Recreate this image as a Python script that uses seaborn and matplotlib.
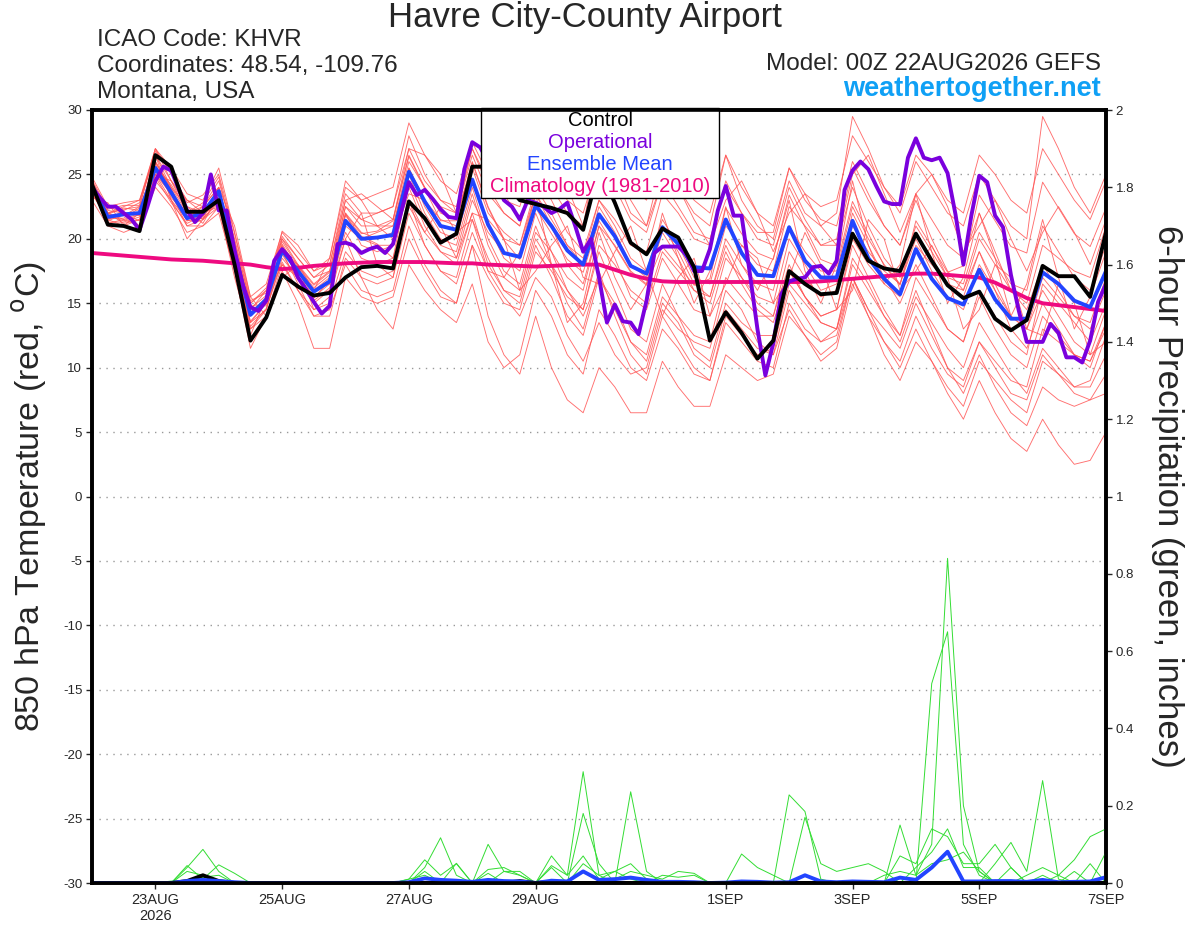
import numpy as np
import pandas as pd
import matplotlib
matplotlib.use("Agg")
import matplotlib.pyplot as plt
import seaborn as sns
from matplotlib.patches import Rectangle

# ---------------- data ----------------
hours6 = list(range(0, 385, 6))      # 65 six-hourly steps from 00Z 22AUG
hours3 = list(range(0, 385, 3))      # 129 three-hourly steps (operational)

control_t = [24.2,21.1,21.0,20.6,26.5,25.6,22.1,22.1,23.0,18.0,12.1,13.9,17.2,16.3,15.6,15.8,17.0,
             17.8,17.9,17.7,22.9,21.6,19.7,20.4,25.6,25.6,24.5,23.0,22.7,22.4,22.0,20.7,25.5,22.8,19.7,
             18.8,20.8,20.1,17.8,12.1,14.3,12.7,10.7,12.1,
             17.5,16.5,15.7,15.8,20.4,18.3,17.7,17.5,20.4,18.3,16.4,15.4,15.9,13.8,12.9,13.7,17.9,17.1,
             17.1,15.5,20.5]
mean_t = [24.1,21.7,21.9,22.0,25.5,23.6,21.6,22.0,23.7,18.9,14.1,15.3,19.1,17.5,15.9,16.7,21.4,
          20.0,20.1,20.3,25.2,22.9,21.0,20.7,24.6,21.1,18.9,18.6,22.6,21.0,19.1,18.0,21.9,20.2,17.9,
          17.3,20.9,19.6,17.8,17.7,21.5,18.9,17.2,17.1,20.9,
          18.3,17.0,17.0,21.4,18.5,16.9,15.7,19.2,16.9,15.4,14.9,17.6,15.3,13.8,13.8,17.4,16.5,15.2,
          14.7,17.5]
oper_t = [24.0,23.2,22.5,22.5,22.0,21.5,20.7,22.5,24.5,25.6,
          25.3,23.8,22.2,21.3,22.0,25.0,22.2,22.2,19.1,16.5,
          14.7,14.4,15.2,18.3,19.2,18.5,17.0,16.1,15.1,14.2,
          14.8,19.6,19.7,19.5,18.9,19.2,19.4,18.9,19.6,22.0,
          24.4,23.4,23.8,23.1,22.3,21.7,21.6,25.4,27.5,27.1,
          26.0,24.5,23.0,22.5,21.5,23.0,22.8,22.5,22.0,22.3,
          22.8,21.0,19.0,20.0,17.0,13.5,14.9,13.6,13.5,12.6,
          15.2,18.9,19.4,19.4,19.4,18.8,17.5,17.5,19.2,22.2,
          24.1,21.8,21.8,17.5,13.0,9.4,11.9,15.7,16.7,16.9,
          17.0,17.8,17.9,17.3,18.3,23.8,25.3,26.0,25.4,24.1,
          22.9,22.7,22.7,26.3,27.8,26.3,26.1,26.3,25.1,21.9,
          18.0,21.8,24.9,24.4,21.8,20.9,17.2,14.4,12.0,12.0,
          12.0,13.4,12.7,10.8,10.8,10.4,12.1,15.1,16.5]
clim_t = [18.9,18.8,18.7,18.6,18.5,18.4,18.35,18.3,18.2,18.1,18.0,17.8,17.65,17.75,17.9,18.0,18.1,
          18.15,18.2,18.2,18.2,18.2,18.15,18.1,18.1,18.0,17.95,17.9,17.85,17.9,17.95,18.0,18.0,
          17.6,17.2,16.9,16.7,16.65,16.65,16.65,16.65,16.65,16.65,16.65,16.65,16.65,16.7,16.8,16.9,
          17.0,17.1,17.2,17.3,17.3,17.2,17.1,17.0,16.6,16.0,15.4,15.0,14.85,14.7,14.55,14.4]

m01 = [24.5,22.0,22.3,22.5,27.0,24.5,22.0,22.5,24.5,20.0,15.0,16.0,20.0,
       18.5,17.0,18.0,23.5,22.0,22.0,22.5,28.0,25.0,23.0,22.0,27.0,24.0,
       22.0,21.0,26.0,24.0,22.0,21.0,27.5,25.0,22.0,21.0,26.0,24.0,22.0,
       21.0,26.5,23.0,21.0,20.0,24.5,22.0,21.0,22.0,29.5,27.0,24.0,22.0,
       26.0,24.0,22.0,21.0,25.0,23.0,21.0,20.0,29.5,27.0,24.0,22.0,25.0]
m02 = [23.5,21.5,21.0,21.5,24.5,23.0,21.0,21.5,22.5,18.0,13.0,14.0,18.0,
       16.0,14.5,15.0,19.0,17.5,17.0,17.5,22.5,20.5,19.0,18.0,22.0,18.0,
       16.0,15.0,19.5,17.0,14.0,12.5,17.0,15.0,12.0,10.5,15.0,13.5,11.0,
       10.0,14.5,13.0,11.5,11.0,16.0,14.0,12.0,12.5,17.0,14.5,12.0,10.0,
       13.0,10.5,8.0,6.0,9.0,6.5,4.5,3.5,6.0,4.0,2.5,2.8,5.0]
m03 = [24.0,22.5,22.0,22.0,26.0,24.0,22.5,22.0,23.0,19.5,14.5,15.0,19.5,
       17.0,15.5,16.5,22.0,19.5,19.0,19.5,25.0,22.0,20.0,19.5,24.0,20.0,
       17.5,16.5,21.0,18.0,15.0,13.0,17.5,14.0,11.0,9.5,14.0,12.0,10.0,
       9.0,13.5,12.0,10.5,10.0,15.0,13.0,12.0,13.0,18.0,16.0,14.0,12.5,
       17.0,15.0,13.0,12.0,16.0,14.0,12.0,11.0,16.5,15.0,13.5,12.0,15.0]
m04 = [23.0,21.0,20.5,21.0,25.0,23.5,22.0,22.0,23.5,18.5,13.0,14.5,19.0,
       16.5,14.0,14.5,18.0,16.0,15.5,16.0,21.0,18.0,16.0,15.0,19.5,14.0,
       11.0,9.5,14.0,10.0,7.5,6.5,10.0,8.5,6.5,6.5,10.5,8.5,7.0,
       7.0,11.0,10.0,9.0,9.5,14.0,12.5,11.0,12.0,17.0,14.5,13.0,11.5,
       15.0,12.5,10.0,9.0,12.0,10.0,8.0,7.5,11.0,9.5,8.0,7.5,9.5]
m05 = [24.5,22.0,22.5,23.0,27.0,25.5,23.5,23.0,25.5,20.5,15.5,16.5,20.5,
       19.0,17.5,18.5,24.0,23.0,23.5,24.0,29.0,26.5,24.5,23.5,27.5,25.0,
       24.0,23.0,27.0,26.0,24.5,23.5,28.0,26.5,24.0,23.0,27.0,25.5,23.0,
       22.0,26.5,24.0,22.0,21.0,25.5,23.0,21.5,21.0,26.0,23.5,21.0,19.5,
       23.0,20.0,17.5,16.0,19.0,16.0,13.0,11.5,15.0,13.0,11.0,10.0,13.5]
m06 = [23.8,21.2,21.5,22.0,25.0,23.0,21.5,22.5,24.0,19.0,14.0,15.5,19.0,
       17.5,16.0,17.0,22.5,21.0,21.0,21.5,26.5,24.0,22.0,21.5,26.0,22.5,
       20.0,19.5,24.0,22.0,19.5,18.0,22.5,20.5,18.0,17.0,21.0,19.0,16.5,
       15.5,19.5,17.0,15.0,14.0,18.0,15.5,13.5,13.0,17.0,14.0,12.0,10.5,
       14.0,11.5,9.5,8.5,12.0,10.5,9.0,8.5,13.0,12.0,11.0,10.5,13.5]
m07 = [24.2,22.0,21.5,21.0,24.0,22.5,20.5,21.0,22.0,17.5,11.5,14.0,17.5,
       15.0,11.5,11.5,17.0,15.5,15.0,15.5,20.0,17.5,15.5,15.0,19.5,17.0,
       15.0,14.5,19.0,17.5,15.5,14.5,19.5,18.0,16.0,15.0,19.0,17.5,16.0,
       15.5,20.0,18.0,16.5,16.0,21.0,19.0,17.5,17.5,22.5,20.0,18.0,16.5,
       20.0,17.5,15.5,14.5,18.0,16.0,14.0,13.0,17.0,15.5,14.0,13.0,16.0]
m08 = [24.0,22.2,22.0,21.8,26.5,24.5,22.5,21.5,23.0,18.5,13.5,14.5,18.5,
       17.0,15.5,16.0,21.0,20.0,20.5,21.0,26.0,24.0,22.5,22.0,26.5,23.5,
       22.0,21.0,25.0,23.0,20.5,19.0,23.0,21.0,18.5,17.5,21.5,19.5,17.0,
       16.5,21.0,19.5,18.0,17.5,22.5,21.0,19.5,20.0,25.5,23.0,21.0,19.5,
       23.5,21.5,19.5,18.5,22.0,19.0,16.0,14.5,18.0,16.0,14.0,13.5,17.0]
m09 = [23.5,21.8,21.8,22.5,25.5,23.5,21.0,21.0,22.5,18.0,13.5,15.0,19.0,
       18.0,16.5,17.5,23.0,21.5,21.0,21.0,25.5,22.5,20.5,20.0,24.5,21.0,
       18.5,17.5,22.0,19.0,16.0,14.5,19.0,16.0,13.0,12.0,16.5,14.0,11.5,
       10.5,15.0,13.5,12.5,12.5,17.5,15.5,14.0,14.5,19.5,17.0,14.5,12.5,
       16.0,13.0,10.0,8.0,11.0,8.5,6.5,5.5,8.5,7.5,7.0,7.5,8.0]
m10 = [24.3,21.5,22.2,22.8,27.0,25.0,23.0,22.5,24.0,19.0,14.5,16.0,20.0,
       18.0,16.0,16.5,21.5,20.0,19.5,19.5,24.0,21.0,19.0,18.5,23.0,20.5,
       19.0,18.5,23.5,21.5,19.5,18.5,23.0,21.5,19.5,19.0,23.5,22.0,20.0,
       19.5,24.5,22.0,20.0,19.5,24.0,21.5,19.5,19.5,24.0,21.0,18.5,17.0,
       21.0,19.0,17.0,16.5,20.5,18.5,16.5,16.0,21.0,19.0,17.0,16.0,19.5]
m11 = [23.7,22.0,21.2,21.5,25.8,23.2,21.8,22.2,23.2,18.8,14.2,15.2,19.2,
       17.2,15.2,16.2,20.5,18.5,18.0,18.5,24.5,21.5,19.5,19.0,23.5,19.5,
       17.0,16.0,20.5,19.0,17.0,16.0,21.0,19.5,17.5,16.5,20.5,18.5,16.0,
       15.0,19.0,16.5,14.5,13.5,17.5,15.5,14.0,14.5,20.0,18.0,16.5,15.5,
       19.5,18.0,16.5,16.0,20.0,18.0,16.0,15.0,19.5,18.5,17.5,17.0,21.0]
m12 = [24.8,22.5,22.8,23.0,26.5,24.0,22.0,22.8,24.8,19.8,15.0,16.2,20.2,
       18.5,17.0,17.5,22.5,21.5,22.0,22.5,27.0,24.5,23.0,22.5,27.0,24.5,
       23.0,22.5,26.5,25.0,23.0,22.0,26.0,24.0,21.5,20.5,24.5,22.5,20.5,
       20.0,24.0,22.0,20.5,20.5,25.5,23.5,22.5,23.0,28.0,26.0,24.0,22.5,
       26.5,25.0,23.0,22.0,26.5,25.0,23.0,22.0,27.0,25.0,23.0,21.5,24.5]
m13 = [23.9,21.3,21.3,21.7,24.8,22.8,21.2,21.8,23.0,18.2,13.2,14.6,18.2,
       16.0,14.0,14.0,18.5,17.0,16.5,17.0,22.0,19.5,17.5,17.0,21.5,18.5,
       16.0,15.5,20.0,18.0,16.0,14.0,17.0,14.5,12.0,11.0,15.5,14.0,12.5,
       12.0,17.0,15.5,14.0,14.0,19.0,17.0,15.5,16.0,21.0,19.0,17.5,16.5,
       20.5,18.5,16.5,15.5,19.0,16.5,14.0,13.0,16.0,14.0,12.0,11.0,14.5]
m14 = [24.1,21.9,22.4,22.2,26.0,23.8,21.7,21.8,23.6,19.2,14.3,15.4,19.4,
       17.8,16.2,17.2,22.0,20.5,20.0,20.5,25.5,23.0,21.5,21.0,25.5,22.0,
       20.5,19.5,23.5,21.0,18.0,16.5,21.0,18.5,15.5,14.5,18.5,16.5,14.5,
       14.0,18.5,17.0,15.5,15.0,20.0,18.0,16.0,16.5,22.0,19.5,17.0,15.0,
       18.0,15.5,13.0,12.0,15.5,13.0,11.0,10.0,14.0,12.5,11.0,10.5,13.0]
m15 = [24.0,21.5,22.0,21.0,25.0,24.5,23.0,22.0,22.5,17.0,12.5,15.5,18.0,
       17.0,16.0,18.5,24.5,23.0,21.0,20.0,23.5,23.0,21.0,18.5,22.0,21.5,
       20.0,16.0,17.5,19.5,21.0,17.0,16.5,19.0,21.0,17.5,14.0,17.0,18.5,
       14.0,16.5,19.5,18.5,15.0,17.0,20.5,18.0,14.5,16.0,21.5,20.0,16.0,
       17.5,19.5,17.0,13.0,14.5,18.0,17.0,13.0,12.5,16.5,15.0,11.0,12.0]
m16 = [23.2,22.8,21.0,22.0,26.5,23.0,20.0,21.5,24.0,21.0,15.5,14.0,17.0,
       18.0,14.5,15.5,20.0,22.0,18.0,17.0,23.0,20.5,22.5,20.5,21.5,17.5,
       17.0,19.0,23.5,18.0,13.5,15.0,20.5,17.0,14.5,16.5,22.0,18.5,15.0,
       17.5,22.5,18.0,16.0,18.5,23.0,17.5,15.0,18.0,24.5,19.5,16.5,18.0,
       23.5,19.0,15.0,17.0,22.0,18.5,14.0,16.5,21.5,17.0,13.0,15.5,19.0]
m17 = [24.4,21.6,21.6,22.4,25.2,23.4,21.4,21.6,22.8,19.4,14.8,14.8,18.8,
       16.8,15.0,16.0,20.0,17.0,14.5,13.0,18.0,16.0,14.5,13.5,16.5,12.0,
       10.0,11.0,16.0,14.0,11.0,9.5,14.5,12.5,10.0,9.0,13.0,11.5,9.5,
       9.0,14.0,12.5,11.0,11.5,16.5,15.0,13.5,13.0,18.5,16.5,14.0,12.0,
       15.5,13.5,11.5,10.0,13.5,11.5,9.5,8.0,11.5,10.0,8.5,8.5,11.0]
m18 = [24.6,22.3,22.6,22.6,26.8,25.2,22.8,23.4,25.0,20.4,15.2,15.8,20.6,
       19.5,17.5,18.0,23.0,23.5,22.5,21.5,27.0,26.5,25.0,22.0,25.5,25.5,
       23.5,21.5,24.5,26.5,24.0,21.0,25.0,25.5,23.0,21.0,24.5,24.0,21.5,
       19.5,23.0,24.5,22.0,19.0,22.0,23.5,21.0,19.5,25.0,26.5,23.5,20.5,
       23.5,25.0,22.5,19.0,21.0,23.0,20.0,17.5,20.5,22.5,20.5,18.0,21.5]
m19 = [23.6,21.4,21.9,21.4,25.6,24.2,22.2,21.2,23.4,18.6,13.6,15.0,19.6,
       17.6,15.4,16.8,21.8,20.2,19.6,18.5,23.0,19.5,17.5,16.5,20.5,17.5,
       15.5,14.0,17.0,15.5,12.5,10.5,13.5,11.0,9.5,10.0,14.5,13.0,12.0,
       11.5,16.0,14.5,12.0,11.0,14.5,12.5,10.5,11.5,16.5,14.0,11.0,9.0,
       12.0,10.5,8.5,7.0,10.5,9.0,7.5,6.5,10.5,9.5,8.5,9.0,12.5]
m20 = [23.9,21.8,21.4,21.9,25.9,23.9,21.4,21.7,23.9,19.6,14.6,15.6,19.8,
       17.9,16.4,17.4,21.9,20.4,20.6,21.4,26.4,23.9,21.4,21.4,25.9,22.4,
       19.9,18.4,22.4,20.4,18.4,17.4,21.4,19.4,17.4,16.4,19.4,17.9,16.4,
       16.9,22.4,20.4,18.9,18.4,23.4,20.9,18.4,17.9,22.9,20.4,17.9,16.4,
       21.4,19.4,17.4,17.9,23.4,21.4,19.4,18.9,24.4,22.4,20.4,19.4,22.4]
members_t = [m01, m02, m03, m04, m05, m06, m07, m08, m09, m10,
             m11, m12, m13, m14, m15, m16, m17, m18, m19, m20]

p1 = [0,0,0,0,0,0,0.04,0.087,0.03,0,0,0,0,
      0,0,0,0,0,0,0,0.01,0.06,0.02,0.05,0,0.1,
      0.03,0.03,0,0.07,0.02,0.07,0.01,0.03,0.01,0,0.02,0.015,0.02,
      0,0,0,0,0,0,0,0,0,0,0,0,0.15,
      0.02,0.1,0.84,0.2,0.03,0,0,0,0,0,0,0,0]
p2 = [0,0,0,0,0,0,0.045,0.01,0.047,0.025,0,0,0,
      0,0,0,0,0,0,0,0,0.04,0.117,0.02,0,0.035,
      0.04,0.02,0,0.045,0.02,0.288,0.02,0,0,0,0,0,0,
      0,0,0,0,0,0,0,0,0,0,0,0,0,
      0,0.516,0.65,0.1,0.02,0,0,0,0,0,0,0,0]
p3 = [0,0,0,0,0,0,0.03,0.02,0,0,0,0,0,
      0,0,0,0,0,0,0,0,0.03,0,0.051,0,0.025,
      0,0,0,0.04,0,0.18,0.05,0,0.236,0.03,0,0,0,
      0,0,0,0,0,0,0,0,0,0,0,0,0.07,
      0.05,0.14,0.12,0.05,0.05,0.1,0.04,0,0,0,0,0,0]
p4 = [0,0,0,0,0,0.005,0,0.015,0.02,0,0,0,0,
      0,0,0,0,0,0,0,0.01,0.02,0,0,0,0,
      0.03,0.02,0,0,0,0.05,0.02,0.03,0.05,0.01,0,0,0,
      0,0,0.075,0.04,0.02,0,0,0,0,0,0,0,0,
      0,0,0,0,0,0.05,0.105,0.03,0.265,0.01,0,0,0]
p5 = [0,0,0,0,0,0,0,0,0,0,0,0,0,
      0,0,0,0,0,0,0,0,0,0,0,0,0,
      0,0,0,0,0,0,0,0.01,0.03,0.02,0.01,0.03,0.025,
      0,0,0,0,0,0.228,0.185,0.01,0,0,0,0,0,
      0,0,0,0,0,0,0,0,0,0.02,0.06,0.12,0.14]
p6 = [0,0,0,0,0,0,0,0,0,0,0,0,0,
      0,0,0,0,0,0,0,0,0,0,0,0,0,
      0,0,0,0,0,0,0,0,0,0,0,0,0,
      0,0,0,0,0,0,0.17,0.05,0.03,0.04,0.05,0.03,0,
      0.04,0.08,0.14,0.04,0.04,0,0.04,0,0.02,0,0.03,0,0.08]
p7 = [0,0,0,0,0,0,0,0,0,0,0,0,0,
      0,0,0,0,0,0,0,0,0,0,0,0,0,
      0,0,0,0,0,0,0,0,0,0,0,0,0,
      0,0,0,0,0,0,0,0,0,0,0,0.02,0.03,
      0.02,0.05,0.06,0.08,0.03,0,0,0.02,0.04,0.02,0,0.05,0]
members_p = [p1, p2, p3, p4, p5, p6, p7]

mean_p = [0,0,0,0,0,0,0.005,0.008,0.005,0.002,0,0,0,
          0,0,0,0,0,0,0,0.002,0.012,0.008,0.006,0.003,0.008,
          0.005,0.004,0,0.006,0.004,0.03,0.008,0.01,0.014,0.008,0.003,0.003,0.002,
          0,0.001,0.004,0.003,0.001,0.002,0.02,0.004,0.002,0.004,0.003,0.002,0.014,
          0.008,0.04,0.081,0.004,0.004,0.005,0.005,0.003,0.008,0.002,0.003,0.004,0.015]
control_p = [0,0,0,0,0,0,0.005,0.02,0.005,0,0,0,0,
             0,0,0,0,0,0,0,0,0,0,0,0,0,
             0,0.005,0,0.003,0,0,0,0,0,0,0,0,0,
             0,0,0,0,0,0,0,0,0,0,0,0,0,
             0,0,0,0,0,0,0,0,0,0,0,0,0]

tick_hours = [24, 72, 120, 168, 240, 288, 336, 384]
tick_labels = ["23AUG\n2026", "25AUG", "27AUG", "29AUG", "1SEP", "3SEP", "5SEP", "7SEP"]
temp_ticks = list(range(-30, 31, 5))
prec_ticks = [0, 0.2, 0.4, 0.6, 0.8, 1.0, 1.2, 1.4, 1.6, 1.8, 2.0]
prec_labels = ["0", "0.2", "0.4", "0.6", "0.8", "1", "1.2", "1.4", "1.6", "1.8", "2"]

# ---------------- frames ----------------
df_mem_t = pd.DataFrame([(k, h, v) for k, m in enumerate(members_t) for h, v in zip(hours6, m)],
                        columns=["member", "hour", "value"])
df_mem_p = pd.DataFrame([(k, h, v) for k, m in enumerate(members_p) for h, v in zip(hours6, m)],
                        columns=["member", "hour", "value"])

# ---------------- style ----------------
sns.set_style("white")
plt.rcParams["font.family"] = ["Liberation Sans", "DejaVu Sans"]

RED = "#ff5555"
GREEN = "#33dd33"
PURPLE = "#7a00dd"
BLUE = "#2244ff"
MAGENTA = "#ee0a80"

fig = plt.figure(figsize=(12, 9.27), dpi=100)
ax = fig.add_axes([92/1200, 1-883/927, (1106-92)/1200, (883-110)/927])
ax2 = ax.twinx()

# temperature
sns.lineplot(data=df_mem_t, x="hour", y="value", units="member", estimator=None,
             color=RED, lw=0.65, alpha=0.85, ax=ax, legend=False)
sns.lineplot(x=hours6, y=clim_t, color=MAGENTA, lw=2.8, ax=ax)
sns.lineplot(x=hours6, y=mean_t, color=BLUE, lw=2.8, ax=ax)
sns.lineplot(x=hours3, y=oper_t, color=PURPLE, lw=2.8, ax=ax)
sns.lineplot(x=hours6, y=control_t, color="black", lw=2.8, ax=ax)

# precipitation
sns.lineplot(data=df_mem_p, x="hour", y="value", units="member", estimator=None,
             color=GREEN, lw=0.7, ax=ax2, legend=False)
sns.lineplot(x=hours6, y=control_p, color="black", lw=2.8, ax=ax2)
sns.lineplot(x=hours6, y=mean_p, color=BLUE, lw=2.8, ax=ax2)

ax.set_xlim(0, 384)
ax.set_ylim(-30, 30)
ax2.set_ylim(0, 2)
ax.set_yticks(temp_ticks)
ax.set_yticklabels([str(t) for t in temp_ticks])
ax2.set_yticks(prec_ticks)
ax2.set_yticklabels(prec_labels)
ax.set_xticks(tick_hours)
ax.set_xticklabels(tick_labels)

ax.yaxis.grid(True, linestyle=(0, (1, 4)), color="#999999", lw=1.0)
ax.xaxis.grid(False)
ax2.grid(False)
ax.set_axisbelow(True)

for a in (ax, ax2):
    for s in a.spines.values():
        s.set_linewidth(2.6)
        s.set_color("black")
ax.tick_params(axis="y", which="major", direction="out", length=4, width=1, labelsize=9.5, pad=3,
               left=True)
ax.tick_params(axis="x", which="major", direction="out", length=4, width=1, labelsize=10.5, pad=3,
               bottom=True)
ax2.tick_params(axis="y", which="major", direction="out", length=4, width=1, labelsize=9.5, pad=3,
                right=True)

ax.set_xlabel("")
ax.set_ylabel("850 hPa Temperature (red, $^{\\rm o}$C)", fontsize=24.5, labelpad=10)
ax2.set_ylabel("6-hour Precipitation (green, inches)", fontsize=25, rotation=270, labelpad=36)

# legend box
ax.add_patch(Rectangle((0.3836, 0.886), 0.2347, 0.117, transform=ax.transAxes,
                       facecolor="white", edgecolor="black", lw=1.0, zorder=5, clip_on=False))
leg = [("Control", "black"), ("Operational", PURPLE), ("Ensemble Mean", BLUE),
       ("Climatology (1981-2010)", MAGENTA)]
for k, (txt, col) in enumerate(leg):
    ax.text(0.501, 0.986 - k*0.0283, txt, color=col, fontsize=14.5, ha="center", va="center",
            transform=ax.transAxes, zorder=6)

# header text
fig.text(585/1200, 1-18/927, "Havre City-County Airport", fontsize=25, ha="center", va="center")
fig.text(97/1200, 1-40/927, "ICAO Code: KHVR", fontsize=17.5, ha="left", va="center")
fig.text(97/1200, 1-66/927, "Coordinates: 48.54, -109.76", fontsize=17.5, ha="left", va="center")
fig.text(97/1200, 1-92/927, "Montana, USA", fontsize=17.5, ha="left", va="center")
fig.text(1101/1200, 1-64/927, "Model: 00Z 22AUG2026 GEFS", fontsize=17.5, ha="right", va="center")
fig.text(1101/1200, 1-89/927, "weathertogether.net", fontsize=19.5, fontweight="bold",
         color="#0fa0f5", ha="right", va="center")

fig.savefig("out.png", dpi=100)
